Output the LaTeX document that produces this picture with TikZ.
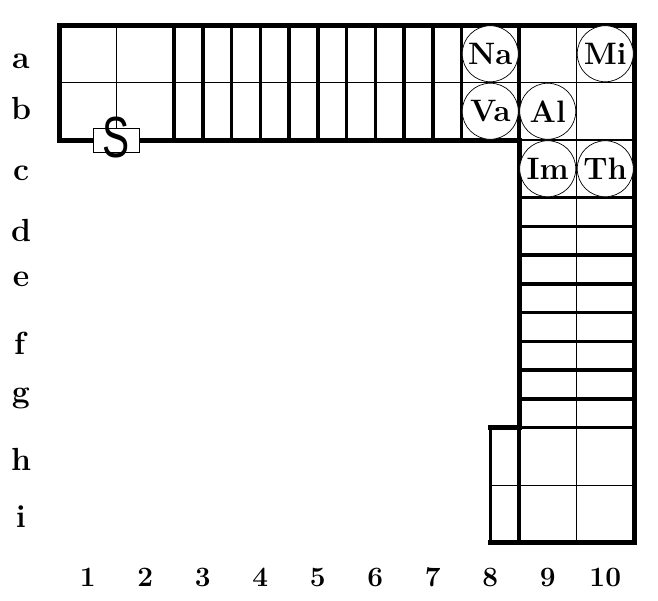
\documentclass[tikz,border=0pt]{standalone}
\usepackage{fontspec}
\newfontfamily\sfont{Liberation Sans}
\newcommand\lab[1]{\textbf{#1}}
\begin{document}
\begin{tikzpicture}[x=1pt,y=-1pt,
  wall/.style={line width=5pt, line cap=rect},
  stair/.style={line width=3.5pt},
  midwall/.style={line width=2.5pt},
  thin/.style={line width=1pt},
  room/.style={circle, draw, line width=0.7pt, fill=white, minimum size=56pt, inner sep=0pt, font=\fontsize{31}{31}\selectfont},
  rowlab/.style={font=\fontsize{32}{32}\selectfont, inner sep=0pt},
  collab/.style={font=\fontsize{28}{28}\selectfont, inner sep=0pt}]
\useasboundingbox (0,0) rectangle (658,600);
% thin grid lines
\draw[thin] (59,82.5) -- (634,82.5);
\draw[thin] (116.5,25) -- (116.5,140);
\draw[thin] (576.5,25) -- (576.5,542.5);
\draw[thin] (490,485) -- (634,485);
% stairs in the upper corridor
\foreach \j in {0,...,10} \draw[stair] ({174+28.75*\j},25) -- ({174+28.75*\j},140);
\draw[stair] (519,25) -- (519,140);
% stairs in the right corridor
\foreach \j in {0,...,8} \draw[stair] (519,{197.5+28.75*\j}) -- (634,{197.5+28.75*\j});
\draw[stair] (519,427.5) -- (519,542.5);
\draw[midwall] (519,140) -- (634,140);
% outer walls
\draw[wall] (59,140) -- (59,25) -- (634,25) -- (634,542.5) -- (490,542.5);
\draw[wall] (59,140) -- (519,140) -- (519,427.5) -- (490,427.5);
\draw[line width=3pt] (490,427.5) -- (490,542.5);
% rooms
\node[room] (na) at (490.25,53.75) {\lab{Na}};
\node[room] (mi) at (605.25,53.75) {\lab{Mi}};
\node[room] (va) at (490.25,111.25) {\lab{Va}};
\node[room] (al) at (547.75,111.25) {\lab{Al}};
\node[room] (im) at (547.75,168.75) {\lab{Im}};
\node[room] (th) at (605.25,168.75) {\lab{Th}};
% start
\node[draw, fill=white, line width=0.8pt, minimum width=46pt, minimum height=24pt, inner sep=0pt] (sbox) at (116.5,140) {};
\node[inner sep=0pt] (s) at (116,138) {\sfont\fontsize{58}{58}\selectfont\scalebox{0.7}[1]{S}};
% row labels
\foreach \l/\yy in {a/61,b/108,c/173,d/230,e/279,f/343,g/398,h/459,i/517}
  \node[rowlab] (r\l) at (21,\yy) {\lab{\l}};
% column labels
\foreach \n in {1,...,10}
  \node[collab] (c\n) at ({59+57.5*\n-28.75},577) {\lab{\n}};
\end{tikzpicture}
\end{document}
